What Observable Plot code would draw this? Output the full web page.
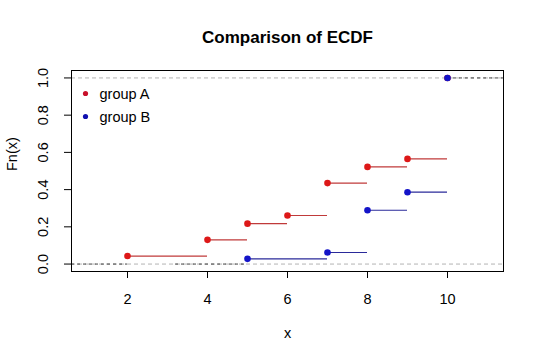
<!DOCTYPE html>
<html>
<head>
<meta charset="utf-8">
<script src="https://cdn.jsdelivr.net/npm/d3@7"></script>
<script src="https://cdn.jsdelivr.net/npm/@observablehq/plot@0.6"></script>
<style>
  html, body { margin: 0; padding: 0; background: #fff; }
  svg { display: block; }
</style>
</head>
<body>
<div id="chart"></div>
<script>
const groupNames = ["group A", "group B"];
const xA = [2, 4, 5, 6, 7, 8, 9, 10];
const yA = [0.043, 0.13, 0.217, 0.261, 0.435, 0.522, 0.565, 1.0];
const xB = [5, 7, 8, 9, 10];
const yB = [0.028, 0.062, 0.289, 0.386, 1.0];
const xTicks = [2, 4, 6, 8, 10];
const yTicks = [0, 0.2, 0.4, 0.6, 0.8, 1.0];
const xDomain = [0.6, 11.4];
const yDomain = [-0.04, 1.04];
const tails = [
  {x1: 0.6, x2: 2, y: 0},
  {x1: 3.2, x2: 5, y: 0},
  {x1: 10, x2: 11.4, y: 1}
];

function steps(xs, ys) {
  const out = [];
  for (let i = 0; i < xs.length - 1; i++) out.push({x1: xs[i], x2: xs[i + 1], y: ys[i]});
  return out;
}
const ptsA = xA.map((x, i) => ({x, y: yA[i]}));
const ptsB = xB.map((x, i) => ({x, y: yB[i]}));

const font = "Liberation Sans, Arial, Helvetica, sans-serif";
const legendColors = ["#c8102a", "#1010b0"];
const legendMarks = groupNames.flatMap((g, i) => [
  Plot.dot([g], {frameAnchor: "top-left", dx: 14, dy: 23 + 23 * i, r: 2.6, fill: legendColors[i]}),
  Plot.text([g], {frameAnchor: "top-left", dx: 28, dy: 24 + 23 * i, text: d => d, fontSize: 14.5, fill: "#000", textAnchor: "start", lineAnchor: "middle"})
]);

const chart = Plot.plot({
  width: 540,
  height: 360,
  marginLeft: 71,
  marginRight: 37,
  marginTop: 70,
  marginBottom: 89,
  style: {fontFamily: font, background: "#fff"},
  x: {domain: xDomain, axis: null},
  y: {domain: yDomain, axis: null},
  marks: [
    Plot.ruleY([0, 1], {stroke: "#b3b3b3", strokeDasharray: "4,3", strokeWidth: 1}),
    Plot.ruleY(tails, {x1: "x1", x2: "x2", y: "y", stroke: "#444", strokeDasharray: "3,3", strokeWidth: 1}),
    Plot.ruleY(steps(xA, yA), {x1: "x1", x2: "x2", y: "y", stroke: "#c03a3a", strokeWidth: 1.2}),
    Plot.ruleY(steps(xB, yB), {x1: "x1", x2: "x2", y: "y", stroke: "#2a2a9a", strokeWidth: 1.2}),
    Plot.dot(ptsA, {x: "x", y: "y", r: 3.3, fill: "#dd1818"}),
    Plot.dot(ptsB, {x: "x", y: "y", r: 3.3, fill: "#1414c8"}),
    Plot.frame({stroke: "#000", strokeWidth: 1}),
    Plot.axisX({ticks: xTicks, tickSize: 7, tickFormat: () => "", label: null, stroke: "#000"}),
    Plot.axisY({ticks: yTicks, tickSize: 7, tickFormat: () => "", label: null, stroke: "#000"}),
    Plot.text(xTicks, {x: d => d, frameAnchor: "bottom", dy: 28, text: d => String(d), fontSize: 14.5, fill: "#000", lineAnchor: "middle"}),
    Plot.text(yTicks, {y: d => d, frameAnchor: "left", dx: -28, rotate: -90, text: d => d.toFixed(1), fontSize: 14.5, fill: "#000", textAnchor: "middle", lineAnchor: "middle"}),
    Plot.text(["x"], {frameAnchor: "bottom", dy: 62, text: d => d, fontSize: 14.5, fill: "#000", lineAnchor: "middle"}),
    Plot.text(["Fn(x)"], {frameAnchor: "left", dx: -59, rotate: -90, text: d => d, fontSize: 14.5, fill: "#000", lineAnchor: "middle"}),
    Plot.text(["Comparison of ECDF"], {frameAnchor: "top", dy: -33, text: d => d, fontSize: 17, fontWeight: "bold", fill: "#000", lineAnchor: "middle"}),
    ...legendMarks
  ]
});
document.getElementById("chart").appendChild(chart);
</script>
</body>
</html>
